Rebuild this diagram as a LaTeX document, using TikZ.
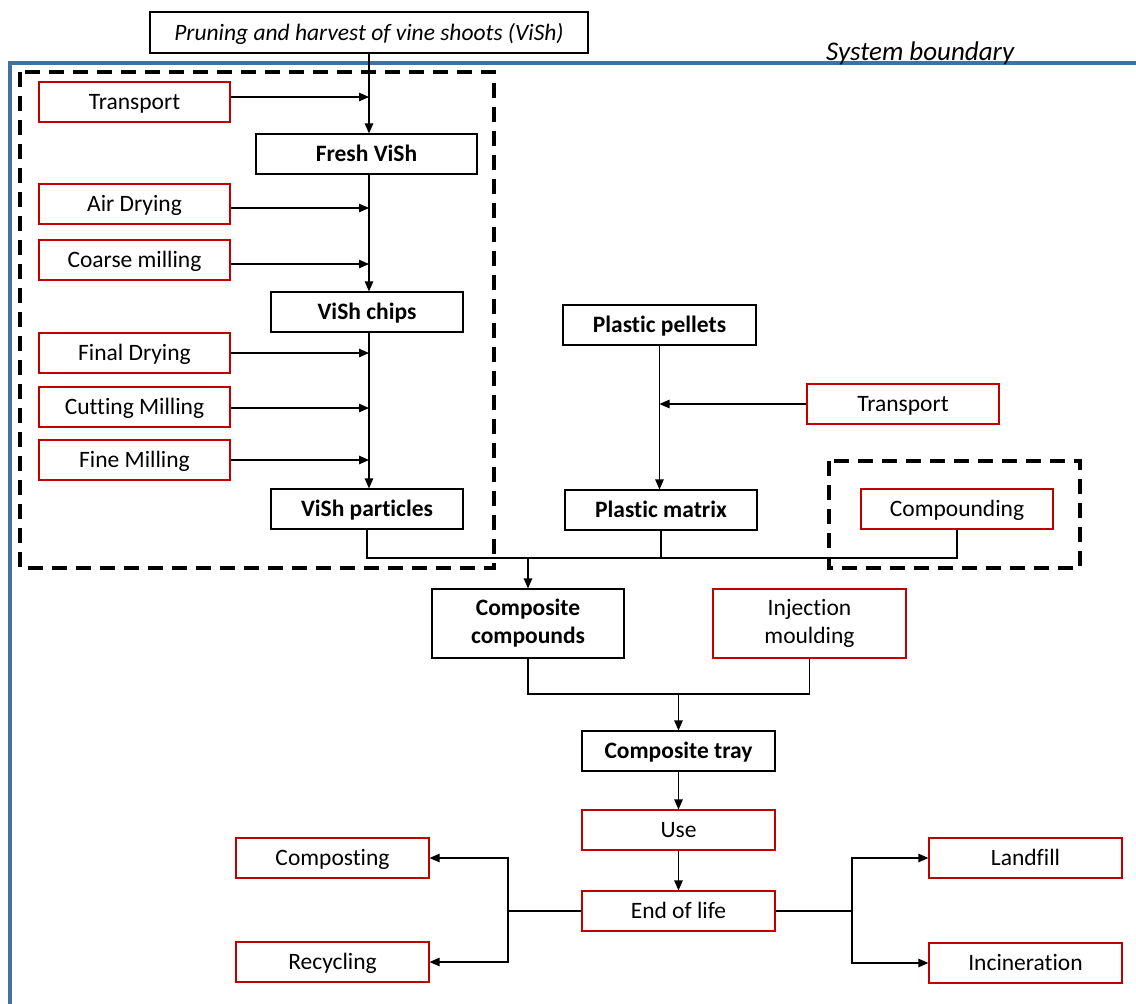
\documentclass[tikz,border=0pt]{standalone}
\usepackage{fontspec}
\setmainfont{Carlito}[Ligatures=NoCommon]
\usetikzlibrary{arrows.meta}
\definecolor{bred}{RGB}{192,0,0}
\definecolor{bblue}{RGB}{65,113,156}
\newcommand\dfont{\fontsize{23.5}{28}\selectfont}
\begin{document}
\begin{tikzpicture}[x=1pt,y=-1pt,
  bbox/.style={draw=black,line width=1.2pt,minimum height=40pt,inner sep=0pt,font=\dfont,text height=19.7pt,text depth=4.7pt},
  bboldbox/.style={bbox,font=\dfont\bfseries},
  rbox/.style={bbox,draw=bred},
  dbox/.style={draw=black,line width=3.8pt,dash pattern=on 15pt off 9pt},
  conn/.style={line width=1.2pt},
  arr/.style={conn,-{Triangle[length=10pt,width=8.5pt]}}]
\useasboundingbox (0,0) rectangle (1136,1004);
% system boundary
\draw[bblue,line width=3.5pt] (10,1006) -- (10,63) -- (1138,63);
\node[anchor=base west,inner sep=0pt,font=\fontsize{27}{32}\selectfont\itshape] (sysb) at (826,60) {System boundary};
% dashed boxes
\draw[dbox] (20,72) rectangle (494,568);
\draw[dbox] (829,461) rectangle (1080,568);
% nodes
\node[bbox,minimum width=438,minimum height=41,font=\dfont\itshape] (prune) at (369,32.5) {Pruning and harvest of vine shoots (ViSh)};
\node[rbox,minimum width=191] (tr1) at (134.5,102) {Transport};
\node[bboldbox,minimum width=221] (fresh) at (366.5,154) {Fresh ViSh};
\node[rbox,minimum width=191] (air) at (134.5,204) {Air Drying};
\node[rbox,minimum width=191] (coarse) at (134.5,260) {Coarse milling};
\node[bboldbox,minimum width=192] (chips) at (367,312) {ViSh chips};
\node[rbox,minimum width=191] (final) at (134.5,353) {Final Drying};
\node[rbox,minimum width=191] (cut) at (134.5,407) {Cutting Milling};
\node[rbox,minimum width=191] (fine) at (134.5,460) {Fine Milling};
\node[bboldbox,minimum width=192] (part) at (367,509) {ViSh particles};
\node[bboldbox,minimum width=193,line width=2pt] (pellet) at (659.5,325) {Plastic pellets};
\node[rbox,minimum width=192] (tr2) at (903,404) {Transport};
\node[bboldbox,minimum width=192] (matrix) at (661,510) {Plastic matrix};
\node[rbox,minimum width=192] (compd) at (957,509) {Compounding};
\node[draw=black,line width=1.2pt,inner sep=0pt,font=\dfont\bfseries,align=center,minimum width=192,minimum height=69] (cc) at (528,623.5) {Composite\\compounds};
\node[draw=bred,line width=1.2pt,inner sep=0pt,font=\dfont,align=center,minimum width=193,minimum height=69] (inj) at (809.5,623.5) {Injection\\moulding};
\node[bboldbox,minimum width=193] (tray) at (678.5,751) {Composite tray};
\node[rbox,minimum width=193] (use) at (678.5,830) {Use};
\node[rbox,minimum width=193] (eol) at (678.5,911) {End of life};
\node[rbox,minimum width=193] (compo) at (332.5,858) {Composting};
\node[rbox,minimum width=193] (recyc) at (332.5,962) {Recycling};
\node[rbox,minimum width=193] (land) at (1025.5,858) {Landfill};
\node[rbox,minimum width=193] (incin) at (1025.5,963) {Incineration};
% main vertical chain
\draw[arr] (prune.south) -- (prune.south |- fresh.north);
\draw[arr] (prune.south |- fresh.south) -- (prune.south |- chips.north);
\draw[arr] (prune.south |- chips.south) -- (prune.south |- part.north);
% side inputs
\coordinate (j1) at (369,97);
\coordinate (j2) at (369,208);
\coordinate (j3) at (369,264);
\coordinate (j4) at (369,353);
\coordinate (j5) at (369,408);
\coordinate (j6) at (369,460);
\draw[arr] (tr1.east |- j1) -- (j1);
\draw[arr] (air.east |- j2) -- (j2);
\draw[arr] (coarse.east |- j3) -- (j3);
\draw[arr] (final.east |- j4) -- (j4);
\draw[arr] (cut.east |- j5) -- (j5);
\draw[arr] (fine.east |- j6) -- (j6);
% plastic chain
\draw[arr] (pellet.south) -- (pellet.south |- matrix.north);
\draw[arr] (tr2.west) -- (tr2.west -| pellet.south);
% merge into composite compounds
\coordinate (m1) at (528,558);
\draw[conn] (part.south) -- (part.south |- m1) -- (compd.south |- m1) -- (compd.south);
\draw[conn] (matrix.south) -- (matrix.south |- m1);
\draw[arr] (m1) -- (cc.north);
% merge into composite tray
\coordinate (m2) at (678.5,694);
\draw[conn] (cc.south) -- (cc.south |- m2) -- (inj.south |- m2) -- (inj.south);
\draw[arr] (m2) -- (tray.north);
\draw[arr] (tray.south) -- (use.north);
\draw[arr] (use.south) -- (eol.north);
% end of life forks
\coordinate (fl) at (508,911);
\coordinate (fr) at (852,911);
\draw[conn] (eol.west) -- (fl);
\draw[arr] (fl) |- (compo.east);
\draw[arr] (fl) |- (recyc.east);
\draw[conn] (eol.east) -- (fr);
\draw[arr] (fr) |- (land.west);
\draw[arr] (fr) |- (incin.west);
\end{tikzpicture}
\end{document}
